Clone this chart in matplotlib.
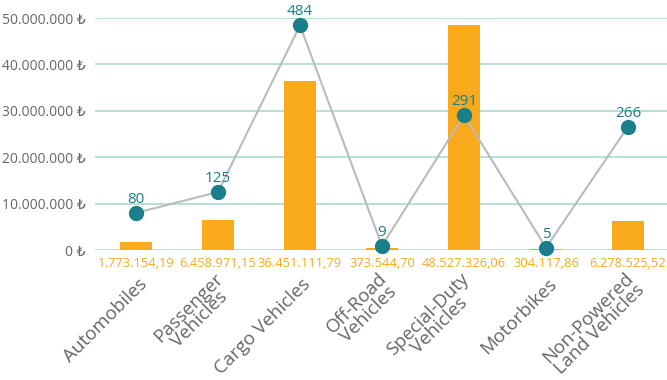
import matplotlib.pyplot as plt
import numpy as np

plt.rcParams['font.family'] = ['Open Sans', 'DejaVu Sans']

categories = ["Automobiles", "Passenger\nVehicles", "Cargo Vehicles", "Off-Road\nVehicles",
              "Special-Duty\nVehicles", "Motorbikes", "Non-Powered\nLand Vehicles"]
amounts = [1773154.19, 6458971.15, 36451111.79, 373544.70, 48527326.06, 304117.86, 6278525.52]
counts = [80, 125, 484, 9, 291, 5, 266]
yticks = [0, 10000000, 20000000, 30000000, 40000000, 50000000]

ORANGE = "#F9AA1C"
TEAL = "#1A7F8B"
GRID = "#A9DCD0"
GREY = "#666666"


def tr(v, dec=2):
    s = f"{v:,.{dec}f}"
    return s.replace(",", "X").replace(".", ",").replace("X", ".")


fig = plt.figure(figsize=(6.67, 3.8), dpi=100)
ax = fig.add_axes([0.1424, 0.342, 0.8606, 0.6105])
x = np.arange(len(categories))

ax.bar(x, amounts, width=0.4, color=ORANGE, zorder=2)
ax.set_ylim(0, 50000000)
ax.set_xlim(-0.5, 6.5)
ax.set_yticks(yticks)
ax.set_yticklabels([tr(v, 0) + " ₺" for v in yticks], color=GREY, fontsize=10)
ax.grid(axis="y", color=GRID, linewidth=1.2, zorder=0)
ax.tick_params(length=0, pad=7)
for s in ax.spines.values():
    s.set_visible(False)

ax.set_xticks(x)
ax.set_xticklabels([])
for xi, v in zip(x, amounts):
    ax.text(xi, -1500000, tr(v), ha="center", va="top", color=ORANGE, fontsize=9.3)
for xi, c in zip(x, categories):
    ax.text(xi + 0.1, -6800000, c, rotation=45, rotation_mode="anchor", ha="right", va="center",
            multialignment="center", color=GREY, fontsize=13.5, linespacing=0.85)

ax2 = ax.twinx()
ax2.set_ylim(0, 500)
ax2.axis("off")
ax2.plot(x, counts, color="#BBBBBB", linewidth=1.5, zorder=3)
ax2.plot(x, counts, "o", color=TEAL, markersize=10, zorder=4, clip_on=False)
for xi, c in zip(x, counts):
    ax2.text(xi, c + 13, str(c), ha="center", va="bottom", color=TEAL, fontsize=11)

fig.savefig("out.png", dpi=100)
